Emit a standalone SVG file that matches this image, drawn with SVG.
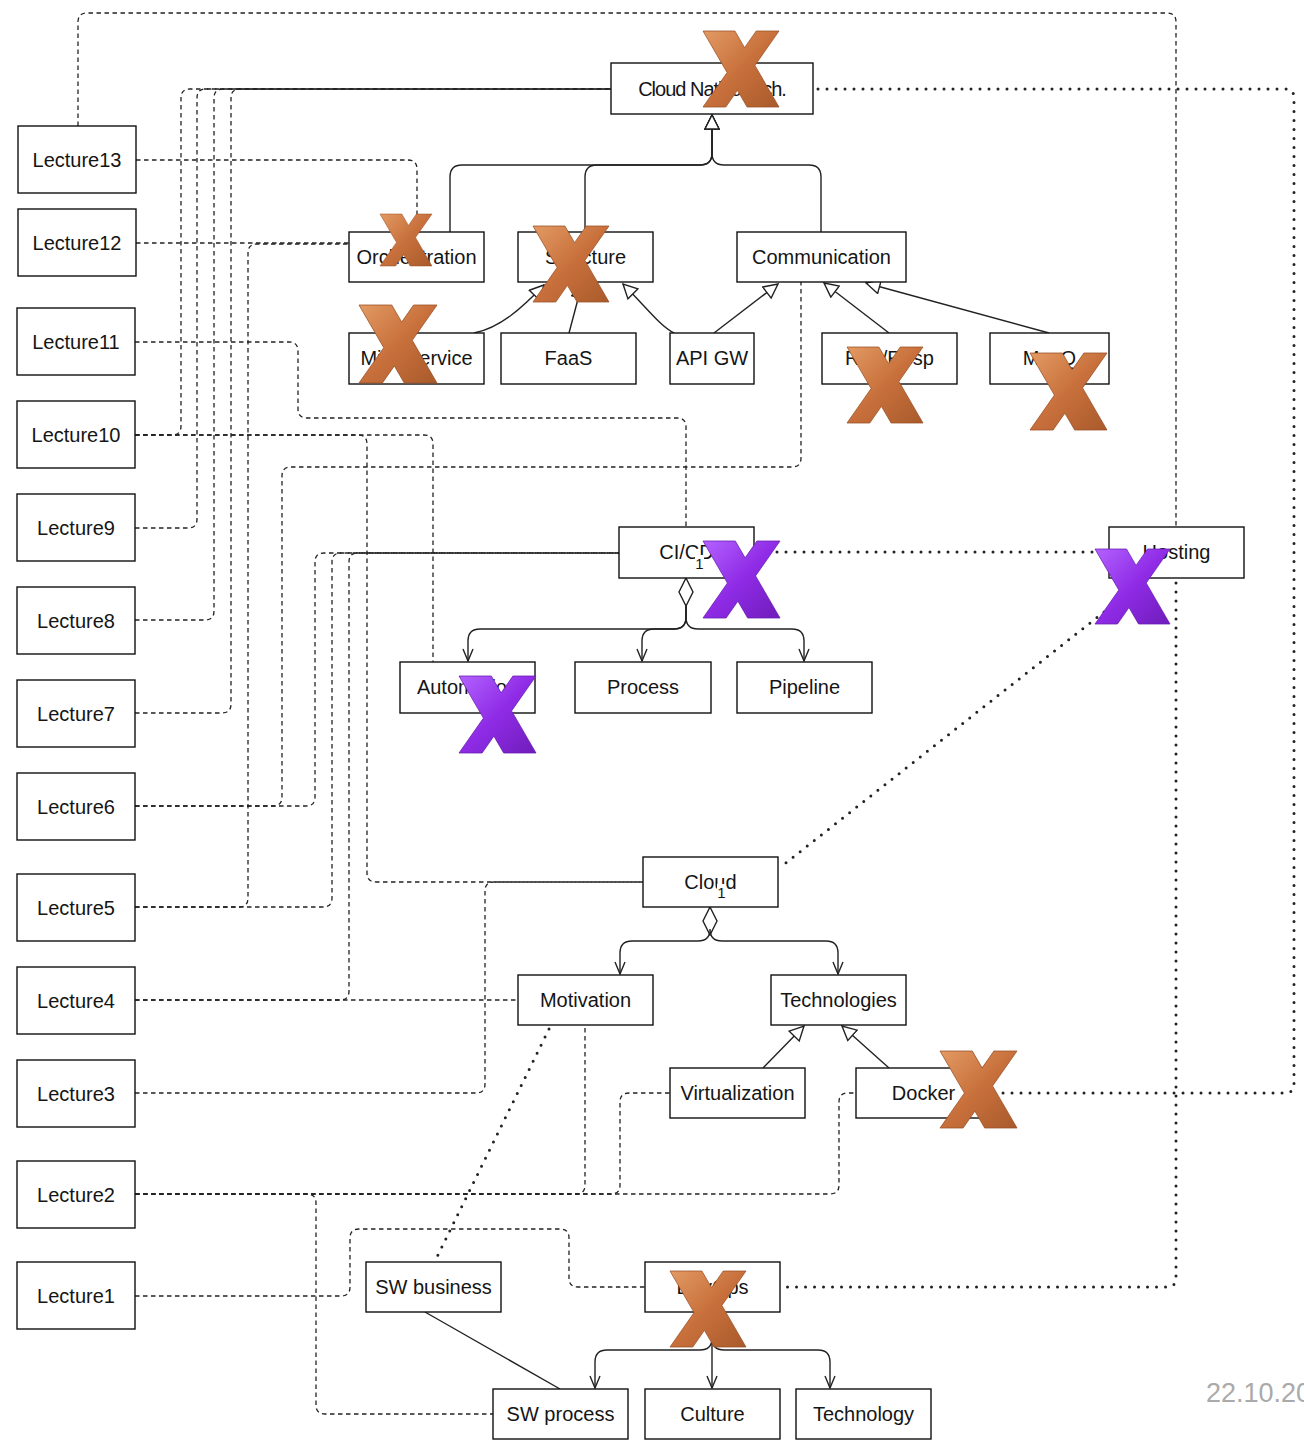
<svg xmlns="http://www.w3.org/2000/svg" xmlns:xlink="http://www.w3.org/1999/xlink" width="1304" height="1440" viewBox="0 0 1304 1440">
<style>
.box{fill:#fff;stroke:#111;stroke-width:1.4}
.lbl{font-family:"Liberation Sans",Arial,Helvetica,sans-serif;font-size:20px;text-anchor:middle;fill:#151515}
.sm{font-family:"Liberation Sans",Arial,Helvetica,sans-serif;font-size:15px;text-anchor:middle;fill:#151515}
.solid{fill:none;stroke:#222;stroke-width:1.4}
.dash{fill:none;stroke:#222;stroke-width:1.3;stroke-dasharray:4.5 3.5}
.dot{fill:none;stroke:#222;stroke-width:3;stroke-dasharray:0 9;stroke-linecap:round}
.date{font-family:"Liberation Sans",Arial,Helvetica,sans-serif;font-size:27px;fill:#aaaaaa}
</style>
<defs>
<marker id="tri" markerUnits="userSpaceOnUse" viewBox="0 0 16 16" refX="15" refY="8" markerWidth="16" markerHeight="16" orient="auto">
<path d="M1,1 L15,8 L1,15 Z" fill="#fff" stroke="#222" stroke-width="1.4"/>
</marker>
<marker id="open" markerUnits="userSpaceOnUse" viewBox="0 0 14 12" refX="13" refY="6" markerWidth="14" markerHeight="12" orient="auto">
<path d="M1,1 L13,6 L1,11" fill="none" stroke="#222" stroke-width="1.4"/>
</marker>
<marker id="dia" markerUnits="userSpaceOnUse" viewBox="-1 -1 30 16" refX="0" refY="7" markerWidth="30" markerHeight="16" orient="auto">
<path d="M0,7 L14,0 L28,7 L14,14 Z" fill="#fff" stroke="#222" stroke-width="1.4"/>
</marker>
<linearGradient id="gO" x1="0" y1="0" x2="1" y2="1">
<stop offset="0" stop-color="#e39a63"/>
<stop offset="0.5" stop-color="#c8703c"/>
<stop offset="1" stop-color="#a95a2b"/>
</linearGradient>
<linearGradient id="gP" x1="0" y1="0" x2="1" y2="1">
<stop offset="0" stop-color="#b262ff"/>
<stop offset="0.5" stop-color="#8f2be6"/>
<stop offset="1" stop-color="#6f1dbb"/>
</linearGradient>
<polygon id="xs" points="0,0 42,0 54.7,21.9 70,0 100,0 68.3,45.3 100,100 58,100 45.3,78.1 30,100 0,100 31.7,54.7"/>
</defs>
<rect x="0" y="0" width="1304" height="1440" fill="#fff"/>

<g id="connectors">
<path class="solid" marker-end="url(#tri)" d="M450 232 V177 Q450 165 462 165 H700 Q712 165 712 153 V115"/>
<path class="solid" marker-end="url(#tri)" d="M585 232 V177 Q585 165 597 165 H700 Q712 165 712 153 V115"/>
<path class="solid" marker-end="url(#tri)" d="M821 232 V177 Q821 165 809 165 H724 Q712 165 712 153 V115"/>
<path class="solid" marker-end="url(#tri)" d="M474 333 C500 328 522 308 544 285"/>
<path class="solid" marker-end="url(#tri)" d="M569 333 L582 284"/>
<path class="solid" marker-end="url(#tri)" d="M674 333 C660 326 645 306 623 284"/>
<path class="solid" marker-end="url(#tri)" d="M714 333 L778 284"/>
<path class="solid" marker-end="url(#tri)" d="M889 333 L824 283"/>
<path class="solid" marker-end="url(#tri)" d="M1049 333 L866 283"/>
<path class="solid" marker-start="url(#dia)" marker-end="url(#open)" d="M686 578 V617 Q686 629 674 629 H480 Q468 629 468 641 V661"/>
<path class="solid" marker-end="url(#open)" d="M686 606 V617 Q686 629 674 629 H654 Q642 629 642 641 V661"/>
<path class="solid" marker-end="url(#open)" d="M686 606 V617 Q686 629 698 629 H792 Q804 629 804 641 V661"/>
<path class="solid" marker-start="url(#dia)" marker-end="url(#open)" d="M710 907 V929 Q710 941 698 941 H632 Q620 941 620 953 V974"/>
<path class="solid" marker-end="url(#open)" d="M710 935 V929 Q710 941 722 941 H826 Q838 941 838 953 V974"/>
<path class="solid" marker-end="url(#tri)" d="M763 1068 L804 1026"/>
<path class="solid" marker-end="url(#tri)" d="M889 1068 L842 1026"/>
<path class="solid" marker-start="url(#dia)" marker-end="url(#open)" d="M712 1312 V1338 Q712 1350 700 1350 H607 Q595 1350 595 1362 V1388"/>
<path class="solid" marker-end="url(#open)" d="M712 1340 V1388"/>
<path class="solid" marker-end="url(#open)" d="M712 1340 V1338 Q712 1350 724 1350 H818 Q830 1350 830 1362 V1388"/>
<path class="solid" d="M425 1312 L560 1389"/>

<path class="dash" d="M136 160 H408 Q417 160 417 169 V232"/>
<path class="dash" d="M78 126 V22 Q78 13 87 13 H1167 Q1176 13 1176 22 V527"/>
<path class="dash" d="M136 243 H349"/>
<path class="dash" d="M135 907 H239 Q248 907 248 898 V253 Q248 244 257 244 H349"/>
<path class="dash" d="M135 342 H289 Q298 342 298 351 V409 Q298 418 307 418 H677 Q686 418 686 427 V527"/>
<path class="dash" d="M135 435 H172 Q181 435 181 426 V98 Q181 89 190 89 H611"/>
<path class="dash" d="M135 528 H188 Q197 528 197 519 V98 Q197 89 206 89 H611"/>
<path class="dash" d="M135 620 H205 Q214 620 214 611 V98 Q214 89 223 89 H611"/>
<path class="dash" d="M135 713 H222 Q231 713 231 704 V98 Q231 89 240 89 H611"/>
<path class="dash" d="M135 806 H273 Q282 806 282 797 V476 Q282 467 291 467 H792 Q801 467 801 458 V282"/>
<path class="dash" d="M135 806 H306 Q315 806 315 797 V562 Q315 553 324 553 H619"/>
<path class="dash" d="M135 907 H323 Q332 907 332 898 V562 Q332 553 341 553 H619"/>
<path class="dash" d="M135 1000 H340 Q349 1000 349 991 V562 Q349 553 358 553 H619"/>
<path class="dash" d="M135 1000 H518"/>
<path class="dash" d="M135 435 H358 Q367 435 367 444 V873 Q367 882 376 882 H643"/>
<path class="dash" d="M135 435 H424 Q433 435 433 444 V662"/>
<path class="dash" d="M135 1093 H476 Q485 1093 485 1084 V891 Q485 882 494 882 H643"/>
<path class="dash" d="M135 1194 H576 Q585 1194 585 1185 V1025"/>
<path class="dash" d="M135 1194 H611 Q620 1194 620 1185 V1102 Q620 1093 629 1093 H670"/>
<path class="dash" d="M135 1194 H830 Q839 1194 839 1185 V1102 Q839 1093 848 1093 H856"/>
<path class="dash" d="M135 1194 H307 Q316 1194 316 1203 V1405 Q316 1414 325 1414 H493"/>
<path class="dash" d="M135 1296 H341 Q350 1296 350 1287 V1238 Q350 1229 359 1229 H560 Q569 1229 569 1238 V1278 Q569 1287 578 1287 H645"/>

<path class="dot" d="M818 89 H1285 Q1294 89 1294 98 V1084 Q1294 1093 1285 1093 H995"/>
<path class="dot" d="M759 552 H1105"/>
<path class="dot" d="M1104 612 L782 866"/>
<path class="dot" d="M1176 583 V1278 Q1176 1287 1167 1287 H784"/>
<path class="dot" d="M549 1029 L436 1259"/>
</g>

<g id="lectures">
<g id="lecture13"><rect class="box" x="18" y="126" width="118" height="67"/><text class="lbl" x="77" y="167">Lecture13</text></g>
<g id="lecture12"><rect class="box" x="18" y="209" width="118" height="67"/><text class="lbl" x="77" y="250">Lecture12</text></g>
<g id="lecture11"><rect class="box" x="17" y="308" width="118" height="67"/><text class="lbl" x="76" y="349">Lecture11</text></g>
<g id="lecture10"><rect class="box" x="17" y="401" width="118" height="67"/><text class="lbl" x="76" y="442">Lecture10</text></g>
<g id="lecture9"><rect class="box" x="17" y="494" width="118" height="67"/><text class="lbl" x="76" y="535">Lecture9</text></g>
<g id="lecture8"><rect class="box" x="17" y="587" width="118" height="67"/><text class="lbl" x="76" y="628">Lecture8</text></g>
<g id="lecture7"><rect class="box" x="17" y="680" width="118" height="67"/><text class="lbl" x="76" y="721">Lecture7</text></g>
<g id="lecture6"><rect class="box" x="17" y="773" width="118" height="67"/><text class="lbl" x="76" y="814">Lecture6</text></g>
<g id="lecture5"><rect class="box" x="17" y="874" width="118" height="67"/><text class="lbl" x="76" y="915">Lecture5</text></g>
<g id="lecture4"><rect class="box" x="17" y="967" width="118" height="67"/><text class="lbl" x="76" y="1008">Lecture4</text></g>
<g id="lecture3"><rect class="box" x="17" y="1060" width="118" height="67"/><text class="lbl" x="76" y="1101">Lecture3</text></g>
<g id="lecture2"><rect class="box" x="17" y="1161" width="118" height="67"/><text class="lbl" x="76" y="1202">Lecture2</text></g>
<g id="lecture1"><rect class="box" x="17" y="1262" width="118" height="67"/><text class="lbl" x="76" y="1303">Lecture1</text></g>
</g>

<g id="topics">
<g id="cloud-native"><rect class="box" x="611" y="63" width="202" height="51"/><text class="lbl" x="712" y="96" style="letter-spacing:-1px">Cloud Native Arch.</text></g>
<g id="orchestration"><rect class="box" x="349" y="232" width="135" height="50"/><text class="lbl" x="416.5" y="264">Orchestration</text></g>
<g id="structure"><rect class="box" x="518" y="232" width="135" height="50"/><text class="lbl" x="585.5" y="264">Structure</text></g>
<g id="communication"><rect class="box" x="737" y="232" width="169" height="50"/><text class="lbl" x="821.5" y="264">Communication</text></g>
<g id="microservice"><rect class="box" x="349" y="333" width="135" height="51"/><text class="lbl" x="416.5" y="365">Microservice</text></g>
<g id="faas"><rect class="box" x="501" y="333" width="135" height="51"/><text class="lbl" x="568.5" y="365">FaaS</text></g>
<g id="apigw"><rect class="box" x="670" y="333" width="84" height="51"/><text class="lbl" x="712" y="365">API GW</text></g>
<g id="reqresp"><rect class="box" x="822" y="333" width="135" height="51"/><text class="lbl" x="889.5" y="365">Req/Resp</text></g>
<g id="msgq"><rect class="box" x="990" y="333" width="119" height="51"/><text class="lbl" x="1049.5" y="365">MsgQ</text></g>
<g id="cicd"><rect class="box" x="619" y="527" width="135" height="51"/><text class="lbl" x="686.5" y="559">CI/CD</text></g>
<g id="hosting"><rect class="box" x="1109" y="527" width="135" height="51"/><text class="lbl" x="1176.5" y="559">Hosting</text></g>
<g id="automation"><rect class="box" x="400" y="662" width="135" height="51"/><text class="lbl" x="467.5" y="694">Automation</text></g>
<g id="process"><rect class="box" x="575" y="662" width="136" height="51"/><text class="lbl" x="643" y="694">Process</text></g>
<g id="pipeline"><rect class="box" x="737" y="662" width="135" height="51"/><text class="lbl" x="804.5" y="694">Pipeline</text></g>
<g id="cloud"><rect class="box" x="643" y="857" width="135" height="50"/><text class="lbl" x="710.5" y="889">Cloud</text></g>
<g id="motivation"><rect class="box" x="518" y="975" width="135" height="50"/><text class="lbl" x="585.5" y="1007">Motivation</text></g>
<g id="technologies"><rect class="box" x="771" y="975" width="135" height="50"/><text class="lbl" x="838.5" y="1007">Technologies</text></g>
<g id="virtualization"><rect class="box" x="670" y="1068" width="135" height="50"/><text class="lbl" x="737.5" y="1100">Virtualization</text></g>
<g id="docker"><rect class="box" x="856" y="1068" width="135" height="50"/><text class="lbl" x="923.5" y="1100">Docker</text></g>
<g id="swbusiness"><rect class="box" x="366" y="1262" width="135" height="50"/><text class="lbl" x="433.5" y="1294">SW business</text></g>
<g id="devops"><rect class="box" x="645" y="1262" width="135" height="50"/><text class="lbl" x="712.5" y="1294">DevOps</text></g>
<g id="swprocess"><rect class="box" x="493" y="1389" width="135" height="50"/><text class="lbl" x="560.5" y="1421">SW process</text></g>
<g id="culture"><rect class="box" x="645" y="1389" width="135" height="50"/><text class="lbl" x="712.5" y="1421">Culture</text></g>
<g id="technology"><rect class="box" x="796" y="1389" width="135" height="50"/><text class="lbl" x="863.5" y="1421">Technology</text></g>
</g>

<g id="edge-labels">
<rect x="695" y="555" width="9" height="16" fill="#fff"/><text class="sm" x="699.5" y="569">1</text>
<rect x="717" y="884" width="9" height="16" fill="#fff"/><text class="sm" x="721.5" y="898">1</text>
</g>

<g id="marks">
<use xlink:href="#xs" fill="url(#gO)" stroke="#9a5024" stroke-width="1" transform="translate(703 31) scale(0.76)"/>
<use xlink:href="#xs" fill="url(#gO)" stroke="#9a5024" stroke-width="1" transform="translate(380 214) scale(0.52)"/>
<use xlink:href="#xs" fill="url(#gO)" stroke="#9a5024" stroke-width="1" transform="translate(533 226) scale(0.76)"/>
<use xlink:href="#xs" fill="url(#gO)" stroke="#9a5024" stroke-width="1" transform="translate(359 305) scale(0.78)"/>
<use xlink:href="#xs" fill="url(#gO)" stroke="#9a5024" stroke-width="1" transform="translate(847 347) scale(0.76)"/>
<use xlink:href="#xs" fill="url(#gO)" stroke="#9a5024" stroke-width="1" transform="translate(1030 353) scale(0.77)"/>
<use xlink:href="#xs" fill="url(#gO)" stroke="#9a5024" stroke-width="1" transform="translate(940 1051) scale(0.77)"/>
<use xlink:href="#xs" fill="url(#gO)" stroke="#9a5024" stroke-width="1" transform="translate(670 1271) scale(0.76)"/>
<use xlink:href="#xs" fill="url(#gP)" stroke="#6a1cb0" stroke-width="1" transform="translate(703 541) scale(0.77)"/>
<use xlink:href="#xs" fill="url(#gP)" stroke="#6a1cb0" stroke-width="1" transform="translate(1095 549) scale(0.75)"/>
<use xlink:href="#xs" fill="url(#gP)" stroke="#6a1cb0" stroke-width="1" transform="translate(459 676) scale(0.77)"/>
</g>

<g id="date"><text class="date" x="1206" y="1402">22.10.20</text></g>
</svg>
